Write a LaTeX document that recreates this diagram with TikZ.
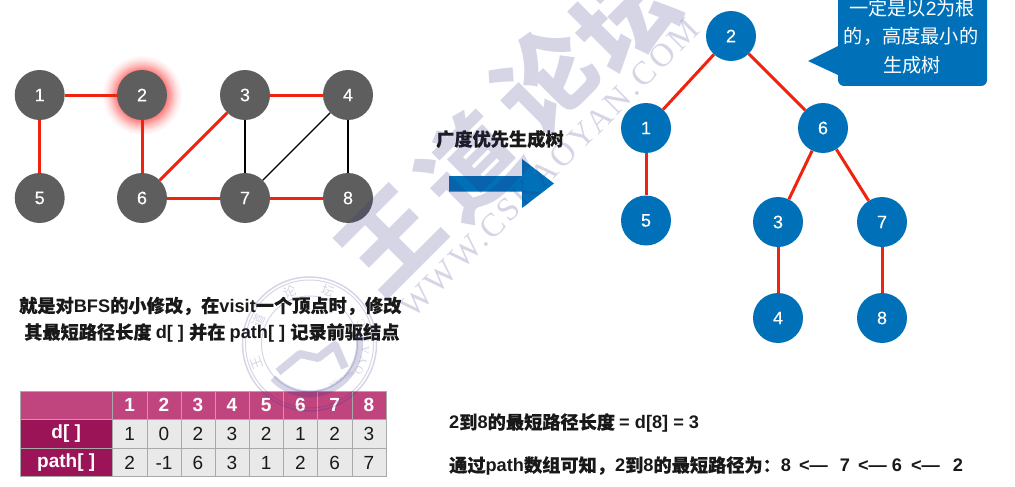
\documentclass[tikz,border=0pt]{standalone}
\usepackage{fontspec}
\setmainfont{Liberation Sans}
\newfontfamily\lab[FakeBold=0.3]{Liberation Sans}
\newfontfamily\cjk[FakeBold=0.3]{Noto Sans CJK SC}
\newfontfamily\cjkr{Noto Sans CJK SC}
\newfontfamily\wmb{Noto Sans CJK SC}
\newfontfamily\wms[LetterSpace=9]{Liberation Serif}
\definecolor{gnode}{HTML}{5E5E5E}
\definecolor{bnode}{HTML}{0071B8}
\definecolor{redge}{HTML}{F0230F}
\definecolor{hdr}{HTML}{C0457F}
\definecolor{side}{HTML}{9B1458}
\definecolor{cellc}{HTML}{E9E9E9}
\definecolor{gridc}{HTML}{A9A9A9}
\definecolor{wm}{HTML}{2B2F80}
\pgfdeclareradialshading{glow}{\pgfpointorigin}{
  color(0bp)=(red!50!white);
  color(15.6bp)=(red!50!white);
  color(19bp)=(red!27!white);
  color(22bp)=(red!10!white);
  color(25bp)=(white);
  color(50bp)=(white)}
\tikzset{
  x=1pt,y=-1pt,
  vtx/.style={circle,minimum size=50pt,inner sep=0pt,text=white,font=\fontsize{18}{18}\lab\selectfont},
  gvtx/.style={vtx,fill=gnode},
  bvtx/.style={vtx,fill=bnode},
  tree/.style={draw=redge,line width=3pt},
  plain/.style={draw=black,line width=1.4pt},
  lbl/.style={inner sep=0pt,font=\fontsize{18.2}{18.2}\bfseries\selectfont,text=black!90},
  ctext/.style={inner sep=0pt,text=white,font=\fontsize{19.2}{19.2}\selectfont},
  cell/.style={draw=gridc,line width=1pt,inner sep=0pt,minimum height=28.6pt},
  hcell/.style={cell,fill=hdr,text=white,font=\fontsize{19}{19}\bfseries\selectfont},
  scell/.style={cell,fill=side,text=white,font=\fontsize{19}{19}\bfseries\selectfont},
  dcell/.style={cell,fill=cellc,text=black!90,font=\fontsize{19}{19}\selectfont},
  wmark/.style={inner sep=0pt,text=wm,opacity=.2,text opacity=.2},
  wline/.style={draw=wm,opacity=.2},
}
\begin{document}
\begin{tikzpicture}
\useasboundingbox (0,0) rectangle (1015,487);
\clip (0,0) rectangle (1015,487);
\shade[shading=glow] (142,95) circle (40);
% left graph
\node[gvtx] (g1) at (39.7,95) {1};
\node[gvtx] (g2) at (142,95) {2};
\node[gvtx] (g3) at (245,95) {3};
\node[gvtx] (g4) at (348,95) {4};
\node[gvtx] (g5) at (39.7,198) {5};
\node[gvtx] (g6) at (142,198) {6};
\node[gvtx] (g7) at (245,198) {7};
\node[gvtx] (g8) at (348,198) {8};
\draw[tree] (g1)--(g2);
\draw[tree] (g1)--(g5);
\draw[tree] (g2)--(g6);
\draw[tree] (g3)--(g4);
\draw[tree] (g3)--(g6);
\draw[tree] (g6)--(g7);
\draw[tree] (g7)--(g8);
\draw[plain] (g3)--(g7);
\draw[plain] (g4)--(g7);
\draw[plain] (g4)--(g8);
% right tree
\node[bvtx] (b2) at (731,36) {2};
\node[bvtx] (b1) at (646,128) {1};
\node[bvtx] (b6) at (823,128) {6};
\node[bvtx] (b5) at (646,220.5) {5};
\node[bvtx] (b3) at (778,222) {3};
\node[bvtx] (b7) at (882,222) {7};
\node[bvtx] (b4) at (778,318) {4};
\node[bvtx] (b8) at (882,318) {8};
\draw[tree] (b2)--(b1);
\draw[tree] (b2)--(b6);
\draw[tree] (b1)--(b5);
\draw[tree] (b6)--(b3);
\draw[tree] (b6)--(b7);
\draw[tree] (b3)--(b4);
\draw[tree] (b7)--(b8);
% arrow
\fill[bnode] (449,176)--(522,176)--(522,159)--(554,183.5)--(522,208)--(522,191.5)--(449,191.5)--cycle;
\node[lbl,anchor=west] (arrowtext) at (436,139) {\cjk 广度优先生成树};
% callout
\fill[bnode] (844,-12)--(981,-12) arc[start angle=-90,end angle=0,radius=6] -- (987,80)
  arc[start angle=0,end angle=90,radius=6] -- (844,86)
  arc[start angle=90,end angle=180,radius=6] -- (838,75)--(808,61)--(838,46)--(838,-6)
  arc[start angle=180,end angle=270,radius=6]--cycle;
\node[ctext] (c1) at (912,8) {\cjkr 一定是以\textrm{2}为根};
\node[ctext] (c2) at (911,36) {\cjkr 的，高度最小的};
\node[ctext] (c3) at (912,65) {\cjkr 生成树};
% middle text
\node[lbl,anchor=west] (t1) at (19,306) {{\cjk 就是对}BFS{\cjk 的小修改，在}visit{\cjk 一个顶点时，修改}};
\node[lbl,anchor=west] (t2) at (24,333) {{\cjk 其最短路径长度 }d[ ] {\cjk 并在 }path[ ] {\cjk 记录前驱结点}};
% table
\foreach \i/\xa/\xb in {1/112.5/147,2/147/181,3/181/215,4/215/249,5/249/283.5,6/283.5/317.5,7/317.5/352,8/352/386}{
  \node[hcell,minimum width={\xb-\xa}] (h\i) at ({(\xa+\xb)/2},405.3) {\i};
}
\node[hcell,minimum width=92.5pt] (h0) at (66.25,405.3) {};
\node[scell,minimum width=92.5pt] (s1) at (66.25,433.9) {d[ ]};
\node[scell,minimum width=92.5pt] (s2) at (66.25,462.5) {path[ ]};
\foreach \i/\xa/\xb/\d/\p in {1/112.5/147/1/2,2/147/181/0/-1,3/181/215/2/6,4/215/249/3/3,5/249/283.5/2/1,6/283.5/317.5/1/2,7/317.5/352/2/6,8/352/386/3/7}{
  \node[dcell,minimum width={\xb-\xa}] (d\i) at ({(\xa+\xb)/2},433.9) {\d};
  \node[dcell,minimum width={\xb-\xa}] (p\i) at ({(\xa+\xb)/2},462.5) {\p};
}
% bottom text
\node[lbl,anchor=west] (r1) at (449,423) {2{\cjk 到}8{\cjk 的最短路径长度 }= d[8] = 3};
\node[lbl,anchor=west] (r2) at (449,466) {{\cjk 通过}path{\cjk 数组可知，}2{\cjk 到}8{\cjk 的最短路径为：}8 \,<—\hspace{12pt}7\hspace{8pt}<— 6\hspace{9pt}<—\hspace{13pt}2};
% watermark
\begin{scope}[every node/.style={wmark,rotate=45,font=\fontsize{97}{97}\wmb\bfseries\selectfont}]
\node (w1) at (390,240) {王};
\node (w2) at (470,165) {道};
\node (w3) at (545,80) {论};
\node (w4) at (625,18) {坛};
\end{scope}
\node[wmark,rotate=45,font=\fontsize{33}{33}\wms\selectfont] (w5) at (550,168) {WWW.CSKAOYAN.COM};
\draw[wline,line width=1.5pt] (309.5,344) circle (67);
\draw[wline,line width=1pt] (309.5,344) circle (64);
\draw[wline,line width=1pt] (309.5,344) circle (48);
\draw[wline,line width=7pt] (273,378) arc[start angle=223,end angle=372,radius=50,x radius=50,y radius=-50];
\draw[wline,line width=8pt,line join=round] (278,372) -- (300,354) -- (318,358) -- (335,345) -- (345,368);
\foreach \c/\a in {王/200,道/155,论/110,坛/70}{
  \node[wmark,rotate=\a-90,font=\fontsize{13}{13}\cjkr\selectfont] at ({309.5+56*cos(\a)},{344-56*sin(\a)}) {\c};
}
\foreach \c/\a in {O/-28,Y/-17,A/-6,N/5,./14,C/22}{
  \node[wmark,rotate=\a+90,font=\fontsize{11}{11}\wms\selectfont] at ({309.5+56*cos(\a)},{344-56*sin(\a)}) {\c};
}
\node[wmark,rotate=28,font=\fontsize{5}{5}\selectfont] (w6) at (342,379) {SINCE 2006};
\end{tikzpicture}
\end{document}
